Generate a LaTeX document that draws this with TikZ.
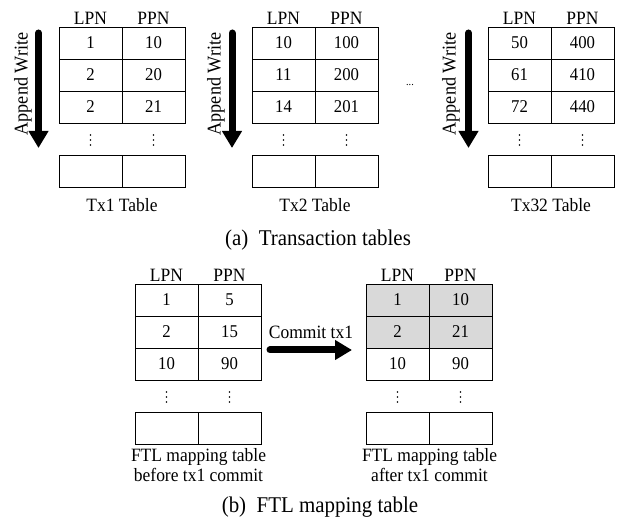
\documentclass[tikz,border=0pt]{standalone}
\usepackage{fontspec}
\setmainfont[FakeStretch=0.93]{Liberation Serif}
\usetikzlibrary{arrows.meta}
\definecolor{shade}{RGB}{217,217,217}
\tikzset{
 cell/.style={draw,line width=0.9pt,minimum width=63pt,minimum height=32pt,inner sep=0pt,font=\fontsize{18}{20}\selectfont},
 hl/.style={},
 hdr/.style={font=\fontsize{18.8}{20}\selectfont,inner sep=0pt},
 lbl/.style={font=\fontsize{18.8}{20.5}\selectfont,inner sep=0pt,align=center},
 vlbl/.style={font=\fontsize{19.5}{21}\selectfont,inner sep=0pt,rotate=90},
 captext/.style={font=\fontsize{22.5}{24}\selectfont,inner sep=0pt},
 vdot/.style={circle,fill,inner sep=0pt,minimum size=1.8pt},
 bigarrow/.style={line width=7pt,-{Triangle[width=19pt,length=17pt]}},
}
\newcommand\mkdots[3]{%
 \node[vdot] (#1a) at (#2,#3-5) {};
 \node[vdot] (#1b) at (#2,#3) {};
 \node[vdot] (#1c) at (#2,#3+5) {};
}
\newcommand\mktable[9]{%
 \node[hdr] (#1-h1) at (#2+31.5,#3-9) {LPN};
 \node[hdr] (#1-h2) at (#2+94.5,#3-9) {PPN};
 \node[cell,hl] (#1-11) at (#2+31.5,#3+16) {#4};
 \node[cell,hl] (#1-12) at (#2+94.5,#3+16) {#5};
 \node[cell,hl] (#1-21) at (#2+31.5,#3+48) {#6};
 \node[cell,hl] (#1-22) at (#2+94.5,#3+48) {#7};
 \node[cell] (#1-31) at (#2+31.5,#3+80) {#8};
 \node[cell] (#1-32) at (#2+94.5,#3+80) {#9};
 \mkdots{#1-d1}{#2+31.5}{#3+113}
 \mkdots{#1-d2}{#2+94.5}{#3+113}
 \node[cell] (#1-51) at (#2+31.5,#3+144) {};
 \node[cell] (#1-52) at (#2+94.5,#3+144) {};
}
\begin{document}
\begin{tikzpicture}[x=1pt,y=-1pt]
\useasboundingbox (0,0) rectangle (619,521);
% (a) transaction tables
\mktable{tx1}{59}{27}{1}{10}{2}{20}{2}{21}
\mktable{tx2}{252}{27}{10}{100}{11}{200}{14}{201}
\mktable{tx32}{488}{27}{50}{400}{61}{410}{72}{440}
\node[lbl] (tx1-l) at (122,205) {Tx1 Table};
\node[lbl] (tx2-l) at (315,205) {Tx2 Table};
\node[lbl] (tx32-l) at (551,205) {Tx32 Table};
\foreach \n/\ax/\tx in {1/38.5/23, 2/232/216, 32/468.5/451}{
  \coordinate (aw\n s) at (\ax,33);
  \coordinate (aw\n e) at (\ax,148);
  \draw[bigarrow,line cap=round] (aw\n s) -- (aw\n e);
  \node[vlbl] (aw\n t) at (\tx,84) {Append Write};
}
\node[inner sep=0pt,font=\fontsize{11}{12}\selectfont] (more) at (410,85) {...};
\node[captext] (capa) at (318,240) {(a)\ \ Transaction tables};
% (b) FTL mapping tables
\mktable{bef}{135}{284}{1}{5}{2}{15}{10}{90}
\begin{scope}[hl/.style={fill=shade}]
\mktable{aft}{366}{284}{1}{10}{2}{21}{10}{90}
\end{scope}
\node[lbl] (bef-l) at (198.5,465) {FTL mapping table\\before tx1 commit};
\node[lbl] (aft-l) at (429.5,465) {FTL mapping table\\after tx1 commit};
\coordinate (cs) at (270,350);
\coordinate (ce) at (352,350);
\draw[bigarrow,line cap=round] (cs) -- (ce);
\node[lbl] (ct) at (311,332) {Commit tx1};
\node[captext] (capb) at (320,507) {(b)\ \ FTL mapping table};
\end{tikzpicture}
\end{document}
